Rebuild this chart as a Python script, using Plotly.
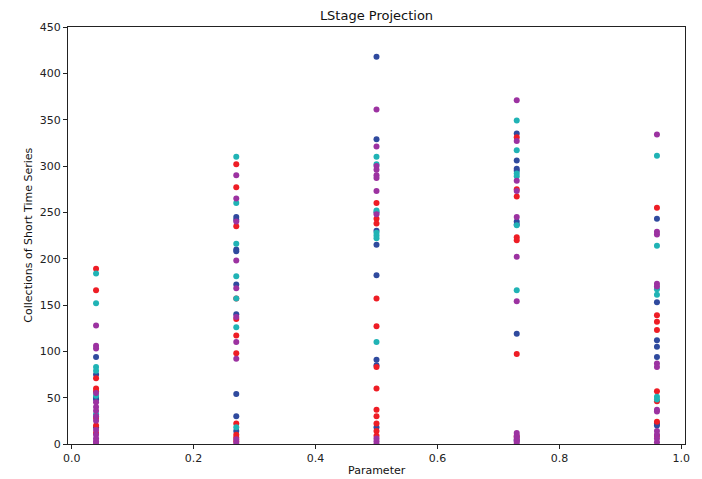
import plotly.graph_objects as go

# Parameter positions
params = [0.04, 0.27, 0.5, 0.73, 0.96]

# Values per colour group, per parameter column
red_vals = [
    [189, 166, 71, 60, 57, 28, 20, 12],
    [302, 277, 235, 157, 135, 117, 98, 22, 10, 7, 3],
    [260, 243, 238, 157, 127, 83, 60, 37, 30, 22, 14, 9],
    [331, 275, 267, 223, 220, 97, 8],
    [255, 139, 132, 123, 57, 46, 24, 9],
]
blue_vals = [
    [94, 75, 50, 48, 18],
    [245, 242, 210, 208, 172, 140, 54, 30, 14],
    [418, 329, 250, 230, 215, 182, 91, 85, 18],
    [335, 306, 297, 295, 240, 237, 119, 4],
    [243, 153, 112, 105, 94, 22, 20],
]
teal_vals = [
    [184, 152, 83, 79, 52, 32],
    [310, 260, 216, 181, 157, 126, 18],
    [310, 302, 252, 228, 225, 222, 110],
    [349, 317, 292, 289, 236, 166],
    [311, 214, 167, 161, 51, 48],
]
purple_vals = [
    [128, 106, 103, 55, 45, 40, 36, 30, 25, 15, 10, 6, 3, 1],
    [290, 265, 240, 198, 168, 137, 110, 92, 5, 1],
    [361, 321, 300, 296, 290, 287, 273, 248, 6, 3, 0],
    [371, 327, 284, 273, 245, 202, 154, 12, 9, 7, 5, 3, 1],
    [334, 229, 226, 173, 170, 87, 83, 37, 35, 14, 10, 6, 2],
]

groups = [
    ("blue", "#2F4A9E", blue_vals),
    ("red", "#EE1D25", red_vals),
    ("teal", "#20B3B5", teal_vals),
    ("purple", "#9C32A1", purple_vals),
]

x_ticks = [0.0, 0.2, 0.4, 0.6, 0.8, 1.0]
y_ticks = [0, 50, 100, 150, 200, 250, 300, 350, 400, 450]

fig = go.Figure()
for name, color, vals in groups:
    xs, ys = [], []
    for p, col in zip(params, vals):
        xs += [p] * len(col)
        ys += col
    fig.add_trace(go.Scatter(
        x=xs, y=ys, mode="markers", name=name,
        marker=dict(color=color, size=6, line=dict(width=0)),
        showlegend=False,
    ))

font = "DejaVu Sans"
fig.update_layout(
    width=702, height=479,
    margin=dict(l=68, r=14, t=27, b=35),
    plot_bgcolor="white", paper_bgcolor="white",
    font=dict(family=font, size=11, color="#222"),
    title=dict(text="LStage Projection", x=0.5, xref="paper", xanchor="center",
               y=1 - 15 / 479, yref="container", yanchor="middle",
               font=dict(family=font, size=13, color="#111")),
    xaxis=dict(range=[-0.006, 1.006], tickvals=x_ticks,
               ticktext=[f"{v:.1f}" for v in x_ticks],
               showgrid=False, zeroline=False, showline=True, linecolor="#222",
               linewidth=1, mirror=True, ticks="outside", ticklen=4,
               tickcolor="#222", tickfont=dict(size=11)),
    yaxis=dict(range=[0, 450], tickvals=y_ticks,
               showgrid=False, zeroline=False, showline=True, linecolor="#222",
               linewidth=1, mirror=True, ticks="outside", ticklen=4,
               tickcolor="#222", tickfont=dict(size=11)),
    annotations=[
        dict(text="Parameter", xref="paper", yref="paper", x=0.5, y=-26 / 417,
             xanchor="center", yanchor="middle", showarrow=False,
             font=dict(family=font, size=11, color="#111")),
        dict(text="Collections of Short Time Series", xref="paper", yref="paper",
             x=-40 / 620, y=0.5, xanchor="center", yanchor="middle",
             textangle=-90, showarrow=False,
             font=dict(family=font, size=11, color="#111")),
    ],
)

fig.write_html("out.html")
